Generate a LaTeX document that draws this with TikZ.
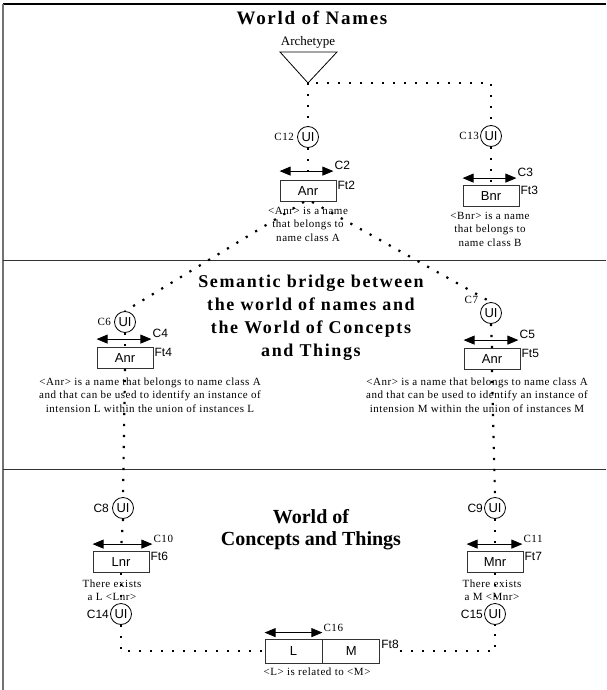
\documentclass[tikz,border=0pt]{standalone}
\usepackage{fontspec}
\setmainfont{Liberation Serif}
\setsansfont{Liberation Sans}
\newfontfamily\titlefont[LetterSpace=9]{Liberation Serif}
\newfontfamily\smallfont[LetterSpace=5]{Liberation Serif}
\usetikzlibrary{arrows.meta}
\begin{document}
\begin{tikzpicture}[x=1pt,y=-1pt,
  dotline/.style={line width=2.2pt, dash pattern=on 2.2pt off 8.8pt},
  ui/.style={circle,draw,line width=0.8pt,minimum size=21pt,inner sep=0pt,font=\sffamily\fontsize{13}{13}\selectfont},
  namebox/.style={draw=black!80,line width=0.8pt,minimum width=56pt,minimum height=21pt,inner sep=0pt,font=\sffamily\fontsize{13}{13}\selectfont},
  dblarrow/.style={{Triangle[length=11pt,width=9pt]}-{Triangle[length=11pt,width=9pt]},line width=0.8pt},
  smalltext/.style={font=\smallfont\fontsize{11}{13.5}\selectfont,align=center,inner sep=0pt},
  seriflabel/.style={font=\smallfont\fontsize{11}{11}\selectfont,inner sep=1pt},
  sanslabel/.style={font=\sffamily\fontsize{12}{12}\selectfont,inner sep=1pt},
  circlabel/.style={inner sep=3pt},
  sectionline/.style={draw=black!80,line width=0.8pt}
]
\useasboundingbox (0,0) rectangle (606,690);
% frame
\draw[line width=1.2pt] (3,4) -- (606,4);
\draw[black!55,line width=1.6pt] (3,4) -- (3,690);
\draw[sectionline] (3,260) -- (606,260);
\draw[sectionline] (3,469) -- (606,469);

% titles
\node[font=\titlefont\bfseries\fontsize{19}{22}\selectfont] (tnames) at (312,18) {World of Names};
\node[font=\titlefont\bfseries\fontsize{18}{23}\selectfont,align=center] (tbridge) at (311,318)
  {Semantic bridge between\\the world of names and\\the World of Concepts\\and Things};
\node[font=\bfseries\fontsize{20}{22}\selectfont,align=center] (tconcepts) at (311,530)
  {World of\\Concepts and Things};

% archetype
\node[font=\fontsize{13}{13}\selectfont] (arch) at (308,42) {Archetype};
\coordinate (apex) at (308,83);
\coordinate (trl) at (280,52);
\coordinate (trr) at (337,52);
\draw[line width=0.8pt] (trl) -- (trr) -- (apex) -- cycle;

% world of names
\node[ui] (c12) at (308,137) {UI};
\node[seriflabel,circlabel,anchor=east] at (c12.west) {C12};
\node[ui] (c13) at (491,136) {UI};
\node[seriflabel,anchor=east] at (c13.west) {C13};

\node[namebox] (a2) at (308,191) {Anr};
\node[sanslabel,anchor=north west] at (a2.north east) {Ft2};
\coordinate (a2l) at ([yshift=9pt]a2.north west);
\coordinate (a2r) at ([yshift=9pt,xshift=-3pt]a2.north east);
\draw[dblarrow] (a2l) -- (a2r);
\node[sanslabel,anchor=south west] at (a2r) {C2};
\node[smalltext] (ta2) at (308,224) {<Anr> is a name\\that belongs to\\name class A};

\node[namebox] (b3) at (491,196) {Bnr};
\node[sanslabel,anchor=north west] at (b3.north east) {Ft3};
\coordinate (b3l) at ([yshift=7pt]b3.north west);
\coordinate (b3r) at ([yshift=7pt,xshift=-3pt]b3.north east);
\draw[dblarrow] (b3l) -- (b3r);
\node[sanslabel,anchor=south west] at (b3r) {C3};
\node[smalltext] (tb3) at (490,229) {<Bnr> is a name\\that belongs to\\name class B};

% bridge
\node[ui] (c6) at (125,322) {UI};
\node[seriflabel,circlabel,anchor=east] at (c6.west) {C6};
\node[ui] (c7) at (491,313) {UI};
\node[seriflabel,anchor=south east] at ([xshift=-4pt]c7.north west) {C7};

\node[namebox] (a4) at (125,358) {Anr};
\node[sanslabel,anchor=north west] at (a4.north east) {Ft4};
\coordinate (a4l) at ([yshift=8pt]a4.north west);
\coordinate (a4r) at ([yshift=8pt,xshift=-2pt]a4.north east);
\draw[dblarrow] (a4l) -- (a4r);
\node[sanslabel,anchor=south west] at (a4r) {C4};
\node[smalltext] (ta4) at (150,395) {<Anr> is a name that belongs to name class A\\and that can be used to identify an instance of\\intension L within the union of instances L};

\node[namebox] (a5) at (492,359) {Anr};
\node[sanslabel,anchor=north west] at (a5.north east) {Ft5};
\coordinate (a5l) at ([yshift=8pt]a5.north west);
\coordinate (a5r) at ([yshift=8pt,xshift=-2pt]a5.north east);
\draw[dblarrow] (a5l) -- (a5r);
\node[sanslabel,anchor=south west] at (a5r) {C5};
\node[smalltext] (ta5) at (477,395) {<Anr> is a name that belongs to name class A\\and that can be used to identify an instance of\\intension M within the union of instances M};

% concepts
\node[ui] (c8) at (123,508) {UI};
\node[sanslabel,circlabel,anchor=east] at (c8.west) {C8};
\node[ui] (c9) at (495,508) {UI};
\node[sanslabel,anchor=east] at (c9.west) {C9};

\node[namebox] (lnr) at (121,562) {Lnr};
\node[sanslabel,anchor=north west] at (lnr.north east) {Ft6};
\coordinate (lnrl) at ([yshift=7pt]lnr.north west);
\coordinate (lnrr) at ([yshift=7pt,xshift=3pt]lnr.north east);
\draw[dblarrow] (lnrl) -- (lnrr);
\node[seriflabel,anchor=south west] at (lnrr) {C10};
\node[smalltext] (tl) at (112,590) {There exists\\a L <Lnr>};

\node[namebox] (mnr) at (495,562) {Mnr};
\node[sanslabel,anchor=north west] at (mnr.north east) {Ft7};
\coordinate (mnrl) at ([yshift=7pt]mnr.north west);
\coordinate (mnrr) at ([yshift=7pt,xshift=-1pt]mnr.north east);
\draw[dblarrow] (mnrl) -- (mnrr);
\node[seriflabel,anchor=south west] at (mnrr) {C11};
\node[smalltext] (tm) at (492,590) {There exists\\a M <Mnr>};

\node[ui] (c14) at (121,614) {UI};
\node[sanslabel,anchor=east] at (c14.west) {C14};
\node[ui] (c15) at (495,614) {UI};
\node[sanslabel,anchor=east] at (c15.west) {C15};

\node[namebox,minimum width=57pt,minimum height=24pt] (lbox) at (293.5,651) {L};
\node[namebox,minimum width=57pt,minimum height=24pt,anchor=west] (mbox) at (lbox.east) {M};
\node[sanslabel,anchor=north west] (ft8) at (mbox.north east) {Ft8};
\coordinate (lbl) at ([yshift=6pt]lbox.north west);
\coordinate (lbr) at ([yshift=6pt]lbox.north east);
\draw[dblarrow] (lbl) -- (lbr);
\node[seriflabel,anchor=south west] at (lbr) {C16};
\node[smalltext] (trel) at (317,672) {<L> is related to <M>};

% dotted connectors
\draw[dotline] (apex) -- (c12.north);
\draw[dotline] ([xshift=8pt]apex) -| (c13.north);
\draw[dotline] (c12.south) -- (a2.north);
\draw[dotline] (c13.south) -- (b3.north);
\draw[dotline] ([xshift=-4pt]a2.south) -- (c6.north);
\draw[dotline] ([xshift=4pt]a2.south) -- (c7.north);
\draw[dotline] (c6.south) -- (a4.north);
\draw[dotline] (c7.south) -- (a5.north);
\draw[dotline] (a4.south) -- (c8.north);
\draw[dotline] (a5.south) -- (c9.north);
\draw[dotline] (c8.south) -- (lnr.north);
\draw[dotline] (c9.south) -- (mnr.north);
\draw[dotline] (lnr.south) -- (c14.north);
\draw[dotline] (mnr.south) -- (c15.north);
\draw[dotline] (c14.south) |- (lbox.west);
\draw[dotline] (ft8.east |- mbox.east) -| (c15.south);
\end{tikzpicture}
\end{document}
